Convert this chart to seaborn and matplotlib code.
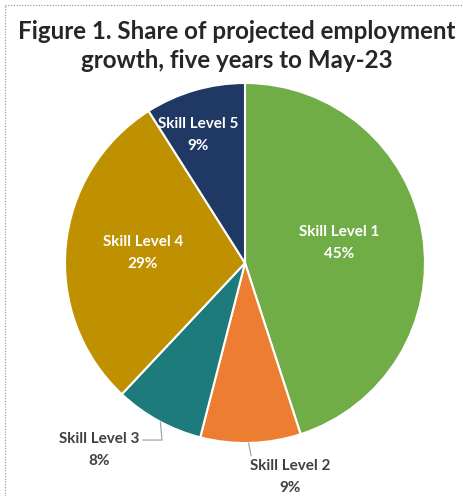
import matplotlib
matplotlib.use("Agg")
import matplotlib.pyplot as plt
import seaborn as sns
import numpy as np
from matplotlib.lines import Line2D

sns.set_theme(style="white")
plt.rcParams['font.family'] = ['Lato', 'DejaVu Sans']

categories = ["Skill Level 1", "Skill Level 2", "Skill Level 3", "Skill Level 4", "Skill Level 5"]
shares = [45, 9, 8, 29, 9]
colors = ["#70AD47", "#ED7D31", "#1E7B7B", "#BF9000", "#203864"]
title = "Figure 1. Share of projected employment\ngrowth, five years to May-23"

W, H = 464, 496
fig = plt.figure(figsize=(W / 100, H / 100), dpi=100)

# dotted border (top and left only)
bstyle = dict(transform=fig.transFigure, color="#8c8c8c", linestyle=(0, (1, 1.5)), linewidth=0.8)
fig.lines.append(Line2D([5 / W, 1.0], [1 - 5 / H, 1 - 5 / H], **bstyle))
fig.lines.append(Line2D([5 / W, 5 / W], [0.0, 1 - 5 / H], **bstyle))

fig.text(237 / W, 1 - 46 / H, title, ha="center", va="center", fontsize=17.4,
         fontweight="bold", color="#262626", linespacing=1.36)

cx, cy, r = 245, 263, 180
ax = fig.add_axes([(cx - r) / W, (H - cy - r) / H, 2 * r / W, 2 * r / H])
wedges, _ = ax.pie(shares, colors=colors, startangle=90, counterclock=False,
                   wedgeprops=dict(edgecolor="white", linewidth=1.5))
ax.set_xlim(-1, 1)
ax.set_ylim(-1, 1)
ax.set_aspect("equal")
ax.axis("off")

def mid(w):
    a = np.deg2rad((w.theta1 + w.theta2) / 2)
    return np.cos(a), np.sin(a)

fs = 11.0
ls = 1.75
# inside labels: (index, radius along mid-angle, extra dx, extra dy)
inside = {0: (0.53, 0.0, 0.03), 3: (0.57, 0.0, 0.0), 4: (0.74, -0.055, 0.0)}
for i, (rr, dx, dy) in inside.items():
    x, y = mid(wedges[i])
    ax.text(x * rr + dx, y * rr + dy, f"{categories[i]}\n{shares[i]}%",
            ha="center", va="center", color="white", fontsize=fs, fontweight="bold",
            linespacing=ls)

lab_color = "#404040"
lead = dict(arrowstyle="-", color="#a6a6a6", lw=0.9, shrinkA=0, shrinkB=0)
# Skill Level 3 (outside)
ax.annotate(f"{categories[2]}\n{shares[2]}%", xy=(-0.47, -np.sqrt(1 - 0.47 ** 2)), xytext=(-0.81, -1.04),
            ha="center", va="center", color=lab_color, fontsize=fs, fontweight="bold",
            linespacing=ls, annotation_clip=False,
            arrowprops=dict(**lead, relpos=(1.02, 0.78),
                            connectionstyle="angle,angleA=0,angleB=95,rad=0"))
# Skill Level 2 (outside)
ax.annotate(f"{categories[1]}\n{shares[1]}%", xy=(0.02, -1.0), xytext=(0.25, -1.19),
            ha="center", va="center", color=lab_color, fontsize=fs, fontweight="bold",
            linespacing=ls, annotation_clip=False,
            arrowprops=dict(**lead, relpos=(0.02, 1.05)))

fig.savefig("out.png", dpi=100)
